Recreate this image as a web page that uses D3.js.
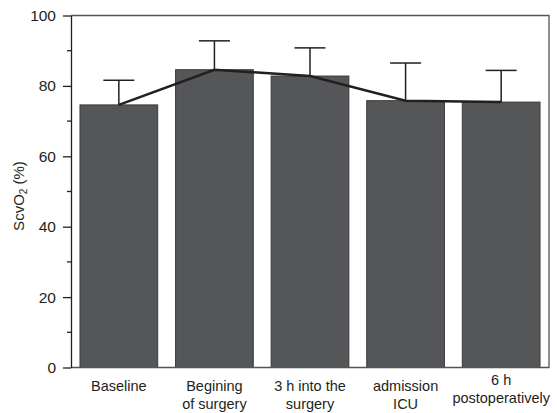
<!DOCTYPE html>
<html>
<head>
<meta charset="utf-8">
<script src="https://cdn.jsdelivr.net/npm/d3@7"></script>
<style>
  body { margin: 0; background: #fff; }
  text { font-family: 'Liberation Sans', Arial, sans-serif; fill: #231f20; }
</style>
</head>
<body>
<div id="vis"></div>
<script>
// data
const categories = ['Baseline', 'Begining of surgery', '3 h into the surgery', 'admission ICU', '6 h postoperatively'];
const labelLines = [['Baseline'], ['Begining', 'of surgery'], ['3 h into the', 'surgery'], ['admission', 'ICU'], ['6 h', 'postoperatively']];
const means = [74.6, 84.6, 82.8, 75.8, 75.4];
const upper = [81.6, 92.8, 90.8, 86.5, 84.4];
const majorTicks = [0, 20, 40, 60, 80, 100];
const minorTicks = [10, 30, 50, 70, 90];

const W = 557, H = 413;
const margin = { top: 15.5, left: 71, right: 8, bottom: 45.5 };
const width = W - margin.left - margin.right,
  height = H - margin.top - margin.bottom;

const svg = d3
  .select('#vis')
  .append('svg')
  .attr('width', W)
  .attr('height', H);

const chart = svg.append('g').attr('transform', `translate(${margin.left}, ${margin.top})`);

const yScale = d3.scaleLinear().domain([0, 100]).range([height, 0]);
const xScale = d3
  .scaleBand()
  .domain(categories)
  .range([0, width])
  .paddingInner(0.187)
  .paddingOuter(0.094);

const ink = '#231f20';

// bars
chart
  .selectAll('.bar')
  .data(categories)
  .enter()
  .append('rect')
  .attr('class', 'bar')
  .attr('x', (d) => xScale(d))
  .attr('y', (d, i) => yScale(means[i]))
  .attr('width', xScale.bandwidth())
  .attr('height', (d, i) => height - yScale(means[i]))
  .style('fill', '#555658')
  .style('stroke', '#3a3a3c')
  .style('stroke-width', 1);

// error bars (upper only)
const cx = (d) => xScale(d) + xScale.bandwidth() / 2;
chart
  .selectAll('.err')
  .data(categories)
  .enter()
  .append('line')
  .attr('x1', cx)
  .attr('x2', cx)
  .attr('y1', (d, i) => yScale(means[i]))
  .attr('y2', (d, i) => yScale(upper[i]))
  .style('stroke', ink)
  .style('stroke-width', 1.5);

chart
  .selectAll('.cap')
  .data(categories)
  .enter()
  .append('line')
  .attr('x1', (d) => cx(d) - 15.5)
  .attr('x2', (d) => cx(d) + 15.5)
  .attr('y1', (d, i) => yScale(upper[i]))
  .attr('y2', (d, i) => yScale(upper[i]))
  .style('stroke', ink)
  .style('stroke-width', 1.5);

// mean line
const line = d3
  .line()
  .x((d) => cx(d))
  .y((d, i) => yScale(means[i]));

chart
  .append('path')
  .datum(categories)
  .attr('d', line)
  .style('fill', 'none')
  .style('stroke', ink)
  .style('stroke-width', 2.5);

// frame: top, right, bottom
chart
  .append('path')
  .attr('d', `M0,0H${width}V${height}H0`)
  .style('fill', 'none')
  .style('stroke', '#555')
  .style('stroke-width', 1.3);

// y axis
const yAxis = chart.append('g').call(
  d3.axisLeft(yScale).tickValues(majorTicks).tickSize(8).tickSizeOuter(0)
);
yAxis.select('.domain').style('stroke', ink).style('stroke-width', 1.3);
yAxis.selectAll('.tick line').style('stroke', ink).style('stroke-width', 1.3);
yAxis
  .selectAll('.tick text')
  .attr('x', -15)
  .style('font-size', '15.5px')
  .style('font-family', "'Liberation Sans', Arial, sans-serif")
  .style('fill', ink);

chart
  .append('g')
  .selectAll('line')
  .data(minorTicks)
  .enter()
  .append('line')
  .attr('x1', -4)
  .attr('x2', 0)
  .attr('y1', (d) => yScale(d))
  .attr('y2', (d) => yScale(d))
  .style('stroke', ink)
  .style('stroke-width', 1.3);

// category labels
const labels = chart
  .selectAll('.cat')
  .data(categories)
  .enter()
  .append('text')
  .attr('class', 'cat')
  .attr('text-anchor', 'middle')
  .attr('transform', (d, i) => `translate(${cx(d)}, ${height + (i === 4 ? 17.5 : 23.5)})`)
  .style('font-size', '14.5px');

labels
  .selectAll('tspan')
  .data((d, i) => labelLines[i])
  .enter()
  .append('tspan')
  .attr('x', 0)
  .attr('dy', (d, j) => (j === 0 ? 0 : 18))
  .text((d) => d);

// y label
const yl = svg
  .append('text')
  .attr('text-anchor', 'middle')
  .attr('transform', `translate(24, 196) rotate(-90)`)
  .style('font-size', '15px');
yl.append('tspan').text('ScvO');
yl.append('tspan').attr('dy', 3).style('font-size', '10px').text('2');
yl.append('tspan').attr('dy', -3).text(' (%)');
</script>
</body>
</html>
